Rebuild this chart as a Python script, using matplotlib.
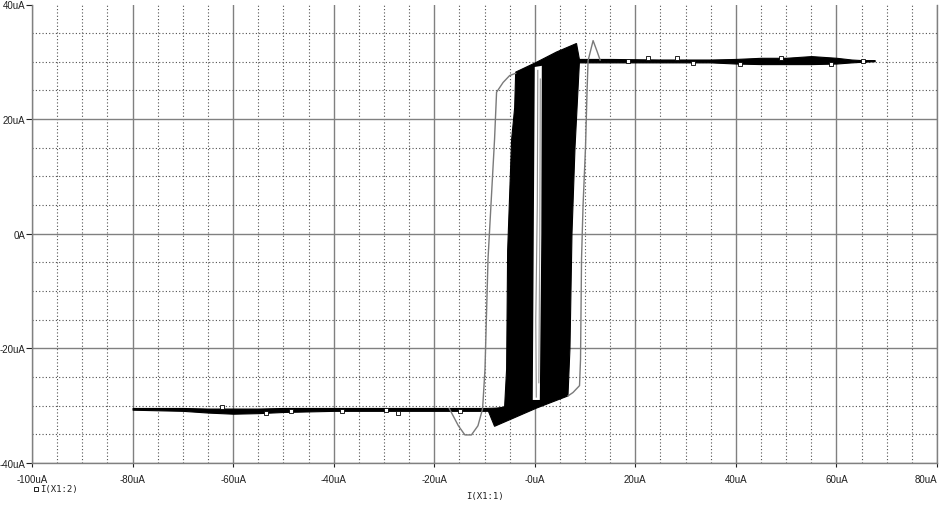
import matplotlib
matplotlib.use("Agg")
import matplotlib.pyplot as plt
from matplotlib.ticker import MultipleLocator
from matplotlib.lines import Line2D

# --- data (uA) ---
# dense black band of switching loops (outline)
band_x = [-3.8, 0.3, 4.3, 8.3, 8.9, 8.0, 7.4, 7.0, 6.6, 0.4, -8.0, -9.3, -6.0, -5.6, -5.4, -4.6, -4.0]
band_y = [28.2, 29.9, 31.7, 33.2, 30.3, 15.0, 0.0, -20.0, -28.3, -30.4, -33.6, -30.8, -30.2, -23.6, -3.0, 16.5, 22.0]

# white gap inside the band
gap_x = [0.0, 1.4, 1.3, 1.0, -0.4, -0.2]
gap_y = [29.1, 29.3, 0.0, -29.0, -29.0, 0.0]
# grey traces seen inside the gap
gap_line1_x = [0.6, 0.5, 0.2, 0.3]
gap_line1_y = [28.5, 5.0, -15.0, -28.5]
gap_line2_x = [1.1, 1.0, 0.8]
gap_line2_y = [27.0, 0.0, -26.0]

# grey outer loop, left rising branch
grey_left_x = [-17.0, -15.2, -13.9, -12.6, -11.3, -10.4, -10.3, -9.9, -9.3, -8.0, -7.6, -6.3, -5.0, -3.8]
grey_left_y = [-30.5, -33.5, -35.1, -35.1, -33.5, -30.6, -29.4, -23.6, -4.4, 16.5, 24.7, 26.4, 27.6, 28.0]
# grey outer loop, right falling branch
grey_right_x = [6.6, 7.6, 8.9, 9.1, 9.3, 9.6, 10.1, 10.4, 10.6, 11.6, 12.4, 13.0]
grey_right_y = [-28.3, -27.7, -26.5, -21.9, -4.4, 4.9, 15.3, 25.0, 30.2, 33.7, 31.8, 30.3]

# saturated flat parts (upper / lower edge of the trace)
low_x = [-80, -75, -70, -65, -60, -55, -50, -45, -40, -30, -20, -10, -6]
low_top = [-30.4, -30.4, -30.4, -30.5, -30.5, -30.5, -30.4, -30.4, -30.4, -30.4, -30.4, -30.4, -30.3]
low_bot = [-30.7, -30.8, -30.9, -31.2, -31.4, -31.3, -31.1, -31.0, -30.9, -30.9, -30.9, -30.9, -30.8]
high_x = [8.5, 15, 25, 35, 40, 45, 50, 55, 60, 63, 65, 67.6]
high_top = [30.5, 30.5, 30.4, 30.4, 30.5, 30.7, 30.7, 31.0, 30.7, 30.4, 30.3, 30.3]
high_bot = [29.9, 29.9, 29.9, 29.9, 29.7, 29.6, 29.6, 29.6, 29.7, 29.9, 30.0, 30.1]

# probe symbols along the trace
mark_x = [18.6, 22.5, 28.2, 31.5, 40.8, 49.0, 59.0, 65.3,
          -62.3, -53.5, -48.5, -38.4, -29.5, -27.2, -14.9]
mark_y = [30.1, 30.7, 30.6, 29.8, 29.7, 30.7, 29.7, 30.1,
          -30.2, -31.3, -31.0, -31.0, -30.8, -31.2, -31.0]

x_ticks = [-100, -80, -60, -40, -20, 0, 20, 40, 60, 80]
x_labels = ["-100uA", "-80uA", "-60uA", "-40uA", "-20uA", "-0uA", "20uA", "40uA", "60uA", "80uA"]
y_ticks = [-40, -20, 0, 20, 40]
y_labels = ["-40uA", "-20uA", "0A", "20uA", "40uA"]

grid_col = "#808080"
dot_col = "#505050"
txt_col = "#202020"

fig = plt.figure(figsize=(9.41, 5.10), dpi=100)
ax = fig.add_axes([32 / 941, 1 - 464 / 510, 905 / 941, 458.5 / 510])

ax.set_xlim(-100, 80)
ax.set_ylim(-40, 40)
ax.set_xticks(x_ticks)
ax.set_xticklabels(x_labels, family="Liberation Sans", fontsize=7)
ax.set_yticks(y_ticks)
ax.set_yticklabels(y_labels, family="Liberation Sans", fontsize=7)
ax.get_xticklabels()[-1].set_horizontalalignment("right")
ax.xaxis.set_minor_locator(MultipleLocator(5))
ax.yaxis.set_minor_locator(MultipleLocator(5))
ax.tick_params(which="minor", length=0)
ax.tick_params(axis="x", which="major", length=3, pad=5, colors=txt_col)
ax.tick_params(axis="y", which="major", length=4, pad=1, colors=txt_col)
for t in ax.get_xticklabels() + ax.get_yticklabels():
    t.set_color(txt_col)

ax.set_axisbelow(True)
ax.grid(which="minor", linestyle=(0, (1, 2)), color=dot_col, linewidth=0.8)
ax.grid(which="major", linestyle="-", color=grid_col, linewidth=1.0)
ax.get_ygridlines()[-1].set_visible(False)

ax.spines["top"].set_visible(False)
for s in ["left", "bottom", "right"]:
    ax.spines[s].set_color(grid_col)
    ax.spines[s].set_linewidth(1.0)

# flat saturated parts
ax.fill_between(low_x, low_bot, low_top, color="black", linewidth=0.8)
ax.fill_between(high_x, high_bot, high_top, color="black", linewidth=0.8)

# grey outer loop
ax.plot(grey_left_x, grey_left_y, color="#7a7a7a", linewidth=1.0)
ax.plot(grey_right_x, grey_right_y, color="#7a7a7a", linewidth=1.0)

# dense loop band
ax.fill(band_x, band_y, color="black", linewidth=0.8)
ax.fill(gap_x, gap_y, color="white", linewidth=0)
ax.plot(gap_line1_x, gap_line1_y, color="#8a8a8a", linewidth=0.8)
ax.plot(gap_line2_x, gap_line2_y, color="#9a9a9a", linewidth=0.8)

ax.plot(mark_x, mark_y, linestyle="none", marker="s", markersize=2.8,
        markerfacecolor="white", markeredgecolor="black", markeredgewidth=0.6)

# legend symbol and trace names
fig.add_artist(Line2D([35.5 / 941], [1 - 490 / 510], marker="s", markersize=3.2,
                      markerfacecolor="white", markeredgecolor=txt_col,
                      markeredgewidth=0.7, linestyle="none"))
fig.text(40 / 941, 1 - 490 / 510, "I(X1:2)", fontsize=6.5, family="DejaVu Sans Mono",
         color=txt_col, va="center", ha="left")
fig.text(485 / 941, 1 - 497 / 510, "I(X1:1)", fontsize=6.5, family="DejaVu Sans Mono",
         color=txt_col, va="center", ha="center")

fig.savefig("out.png", dpi=100)
